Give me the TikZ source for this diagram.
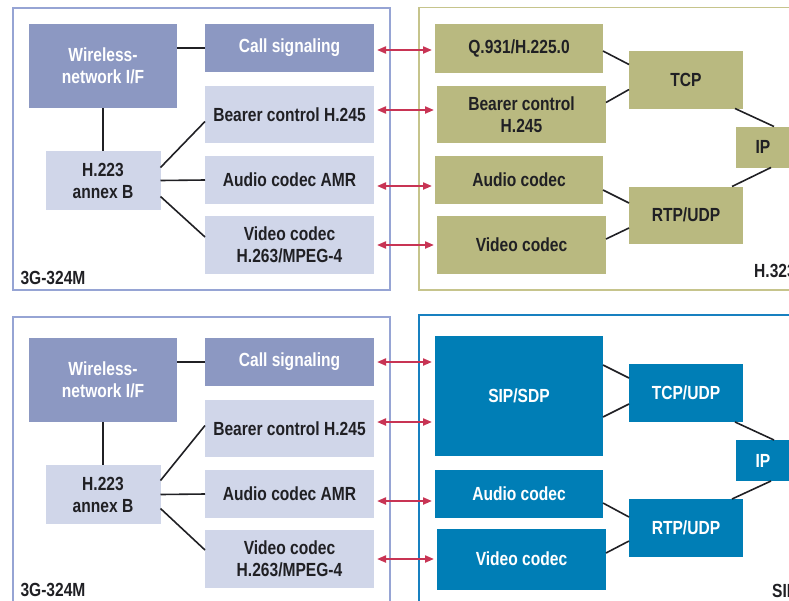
\documentclass[tikz,border=0pt]{standalone}
\usepackage{fontspec}
\setmainfont{Liberation Sans}[FakeStretch=0.82]
\usetikzlibrary{fit}
\usetikzlibrary{positioning}
\usetikzlibrary{arrows.meta}

\definecolor{gsmdark}{RGB}{140,152,194}
\definecolor{gsmlight}{RGB}{208,214,233}
\definecolor{gsmframe}{RGB}{150,164,212}
\definecolor{hbox}{RGB}{185,185,128}
\definecolor{hframe}{RGB}{198,196,140}
\definecolor{sipbox}{RGB}{0,126,182}
\definecolor{sipframe}{RGB}{24,128,192}
\definecolor{sigred}{RGB}{200,52,84}
\definecolor{ink}{RGB}{32,32,36}

\begin{document}
\begin{tikzpicture}[x=1pt, y=1pt]
            \tikzstyle{box_node}=[rectangle, inner sep=0pt, outer sep=0pt, align=center, font=\bfseries\fontsize{19}{22}\selectfont];
            \tikzstyle{gsm_dark_node}=[box_node, fill=gsmdark, text=white];
            \tikzstyle{gsm_node}=[box_node, fill=gsmlight, text=ink];
            \tikzstyle{h323_node}=[box_node, fill=hbox, text=ink];
            \tikzstyle{sip_node}=[box_node, fill=sipbox, text=white];
            \tikzstyle{panel_node}=[rectangle, draw, line width=1.4pt, inner xsep=16pt];
            \tikzstyle{label_node}=[inner sep=0pt, text=ink, font=\bfseries\fontsize{19}{22}\selectfont];
            \tikzstyle{link}=[line width=1.6pt, ink];
            \tikzstyle{sig_arrow}=[line width=2pt, sigred, {Triangle[length=9pt,width=7pt]}-{Triangle[length=9pt,width=7pt]}, shorten <=3pt, shorten >=3pt];

            \clip (0,0) rectangle (789,-600);

            % 3G-324M column, top
            \node(wireless_a) [gsm_dark_node, minimum width=148pt, minimum height=84pt, anchor=north west] at (29,-24) {Wireless-\\network I/F};
            \node(call_a) [gsm_dark_node, minimum width=169pt, minimum height=48pt, below right = 0pt and 28pt of wireless_a.north east] {Call signaling};
            \node(bearer_a) [gsm_node, minimum width=169pt, minimum height=57pt, below = 14pt of call_a] {Bearer control H.245};
            \node(audio_a) [gsm_node, minimum width=169pt, minimum height=48pt, below = 13pt of bearer_a] {Audio codec AMR};
            \node(video_a) [gsm_node, minimum width=169pt, minimum height=58pt, below = 12pt of audio_a] {Video codec\\H.263/MPEG-4};
            \node(h223_a) [gsm_node, minimum width=115pt, minimum height=59pt, below = 43pt of wireless_a] {H.223\\annex B};
            \node(panel_a) [panel_node, draw=gsmframe, inner ysep=16pt, fit=(wireless_a)(video_a)] {};
            \node(gsm_label_a) [label_node, above right = 6pt and 8pt of panel_a.south west] {3G-324M};

            \draw[link] (call_a.west) -- (call_a.west -| wireless_a.east);
            \draw[link] (wireless_a) -- (h223_a);
            \draw[link] ([yshift=13pt]h223_a.east) -- ([yshift=-7pt]bearer_a.west);
            \draw[link] (h223_a.east) -- (audio_a.west);
            \draw[link] ([yshift=-16pt]h223_a.east) -- ([yshift=8pt]video_a.west);

            % H.323 column
            \node(q931_h) [h323_node, minimum width=168pt, minimum height=49pt, right = 61pt of call_a] {Q.931/H.225.0};
            \node(bearer_h) [h323_node, minimum width=169pt, minimum height=57pt, right = 63pt of bearer_a] {Bearer control\\H.245};
            \node(audio_h) [h323_node, minimum width=168pt, minimum height=48pt, right = 61pt of audio_a] {Audio codec};
            \node(video_h) [h323_node, minimum width=169pt, minimum height=58pt, right = 63pt of video_a] {Video codec};
            \node(tcp_h) [h323_node, minimum width=114pt, minimum height=58pt, below right = 27pt and 26pt of q931_h.north east] {TCP};
            \node(rtp_h) [h323_node, minimum width=114pt, minimum height=57pt, below = 78pt of tcp_h] {RTP/UDP};
            \node(ip_h) [h323_node, minimum width=54pt, minimum height=41pt, below right = 18pt and -7pt of tcp_h.south east] {IP};
            \node(panel_h) [panel_node, draw=hframe, inner ysep=16pt, fit=(q931_h)(video_h)(ip_h)] {};
            \node(h323_label) [label_node, below right = 97pt and 18pt of ip_h.south west] {H.323};

            \draw[link] ([yshift=-3pt]q931_h.east) -- ([yshift=15pt]tcp_h.west);
            \draw[link] ([yshift=12pt]bearer_h.east) -- ([yshift=-10pt]tcp_h.west);
            \draw[link] ([xshift=-8pt]tcp_h.south east) -- ([xshift=11pt]ip_h.north);
            \draw[link] ([xshift=8pt]ip_h.south) -- ([xshift=-11pt]rtp_h.north east);
            \draw[link] ([yshift=-10pt]audio_h.east) -- ([yshift=12pt]rtp_h.west);
            \draw[link] ([yshift=6pt]video_h.east) -- ([yshift=-13pt]rtp_h.west);

            \draw[sig_arrow] ([yshift=-2pt]call_a.east) -- ([yshift=-2pt]call_a.east -| q931_h.west);
            \draw[sig_arrow] ([yshift=4.5pt]bearer_a.east) -- ([yshift=4.5pt]bearer_a.east -| bearer_h.west);
            \draw[sig_arrow] ([yshift=-6pt]audio_a.east) -- ([yshift=-6pt]audio_a.east -| audio_h.west);
            \draw[sig_arrow] (video_a.east) -- (video_a.east -| video_h.west);

            % 3G-324M column, bottom
            \node(wireless_b) [gsm_dark_node, minimum width=148pt, minimum height=84pt, below = 230pt of wireless_a] {Wireless-\\network I/F};
            \node(call_b) [gsm_dark_node, minimum width=169pt, minimum height=48pt, below right = 0pt and 28pt of wireless_b.north east] {Call signaling};
            \node(bearer_b) [gsm_node, minimum width=169pt, minimum height=57pt, below = 14pt of call_b] {Bearer control H.245};
            \node(audio_b) [gsm_node, minimum width=169pt, minimum height=48pt, below = 13pt of bearer_b] {Audio codec AMR};
            \node(video_b) [gsm_node, minimum width=169pt, minimum height=58pt, below = 12pt of audio_b] {Video codec\\H.263/MPEG-4};
            \node(h223_b) [gsm_node, minimum width=115pt, minimum height=59pt, below = 43pt of wireless_b] {H.223\\annex B};
            \node(panel_b) [panel_node, draw=gsmframe, inner ysep=21pt, fit=(wireless_b)(video_b)] {};
            \node(gsm_label_b) [label_node, above right = 13pt and 8pt of panel_b.south west] {3G-324M};

            \draw[link] (call_b.west) -- (call_b.west -| wireless_b.east);
            \draw[link] (wireless_b) -- (h223_b);
            \draw[link] ([yshift=14pt]h223_b.east) -- ([yshift=3pt]bearer_b.west);
            \draw[link] (h223_b.east) -- (audio_b.west);
            \draw[link] ([yshift=-14pt]h223_b.east) -- ([yshift=9pt]video_b.west);

            % SIP column
            \node(sip_s) [sip_node, minimum width=168pt, minimum height=120pt, below right = -2pt and 61pt of call_b.north east] {SIP/SDP};
            \node(audio_s) [sip_node, minimum width=168pt, minimum height=48pt, right = 61pt of audio_b] {Audio codec};
            \node(video_s) [sip_node, minimum width=169pt, minimum height=61pt, right = 63pt of video_b] {Video codec};
            \node(tcp_s) [sip_node, minimum width=114pt, minimum height=58pt, below right = 28pt and 26pt of sip_s.north east] {TCP/UDP};
            \node(rtp_s) [sip_node, minimum width=114pt, minimum height=58pt, below = 77pt of tcp_s] {RTP/UDP};
            \node(ip_s) [sip_node, minimum width=54pt, minimum height=41pt, below right = 18pt and -7pt of tcp_s.south east] {IP};
            \node(panel_s) [panel_node, draw=sipframe, inner ysep=21pt, fit=(sip_s)(video_s)(ip_s)] {};
            \node(sip_label) [label_node, below right = 103pt and 36pt of ip_s.south west] {SIP};

            \draw[link] ([yshift=31pt]sip_s.east) -- ([yshift=15pt]tcp_s.west);
            \draw[link] ([yshift=-21pt]sip_s.east) -- ([yshift=-11pt]tcp_s.west);
            \draw[link] ([xshift=-8pt]tcp_s.south east) -- ([xshift=11pt]ip_s.north);
            \draw[link] ([xshift=8pt]ip_s.south) -- ([xshift=-11pt]rtp_s.north east);
            \draw[link] ([yshift=-9pt]audio_s.east) -- ([yshift=11pt]rtp_s.west);
            \draw[link] ([yshift=6pt]video_s.east) -- ([yshift=-13pt]rtp_s.west);

            \draw[sig_arrow] (call_b.east) -- (call_b.east -| sip_s.west);
            \draw[sig_arrow] ([yshift=6.5pt]bearer_b.east) -- ([yshift=6.5pt]bearer_b.east -| sip_s.west);
            \draw[sig_arrow] ([yshift=-7pt]audio_b.east) -- ([yshift=-7pt]audio_b.east -| audio_s.west);
            \draw[sig_arrow] (video_b.east) -- (video_b.east -| video_s.west);
\end{tikzpicture}
\end{document}
